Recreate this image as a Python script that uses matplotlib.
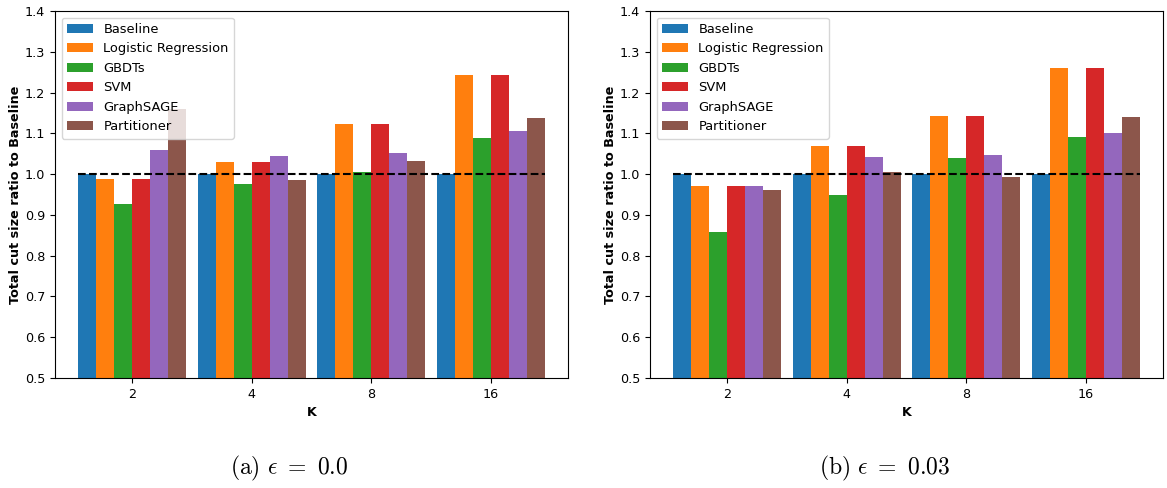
import numpy as np
import matplotlib
matplotlib.use("Agg")
import matplotlib.pyplot as plt

plt.rcParams["mathtext.fontset"] = "cm"
plt.rcParams["font.size"] = 9.2

k_labels = ["2", "4", "8", "16"]
methods = ["Baseline", "Logistic Regression", "GBDTs", "SVM", "GraphSAGE", "Partitioner"]
colors = ["#1f77b4", "#ff7f0e", "#2ca02c", "#d62728", "#9467bd", "#8c564b"]

# ratios for epsilon = 0.0
eps0_baseline = [1.0, 1.0, 1.0, 1.0]
eps0_logreg = [0.987, 1.030, 1.123, 1.242]
eps0_gbdt = [0.927, 0.976, 1.006, 1.088]
eps0_svm = [0.987, 1.030, 1.123, 1.242]
eps0_sage = [1.060, 1.044, 1.051, 1.105]
eps0_part = [1.159, 0.985, 1.033, 1.138]

# ratios for epsilon = 0.03
eps3_baseline = [1.0, 1.0, 1.0, 1.0]
eps3_logreg = [0.970, 1.068, 1.143, 1.259]
eps3_gbdt = [0.858, 0.948, 1.039, 1.091]
eps3_svm = [0.970, 1.068, 1.143, 1.259]
eps3_sage = [0.972, 1.042, 1.046, 1.100]
eps3_part = [0.962, 1.006, 0.993, 1.139]

panels = [
    ([eps0_baseline, eps0_logreg, eps0_gbdt, eps0_svm, eps0_sage, eps0_part],
     r"$\mathrm{(a)\ \epsilon\ =\ 0.0}$"),
    ([eps3_baseline, eps3_logreg, eps3_gbdt, eps3_svm, eps3_sage, eps3_part],
     r"$\mathrm{(b)\ \epsilon\ =\ 0.03}$"),
]

fig = plt.figure(figsize=(11.67, 4.88), dpi=100)
W, H = 1167, 488
axes_boxes = [(55, 11, 568, 378), (650, 11, 1163, 378)]
caption_x = [289, 885]

x = np.arange(len(k_labels))
width = 0.15
for (series, caption), (l, t, r, b), capx in zip(panels, axes_boxes, caption_x):
    ax = fig.add_axes([l / W, 1 - b / H, (r - l) / W, (b - t) / H])
    for i, (name, vals, c) in enumerate(zip(methods, series, colors)):
        ax.bar(x + (i - 2.5) * width, vals, width, label=name, color=c)
    lo = x[0] - 3 * width
    hi = x[-1] + 3 * width
    ax.plot([lo, hi], [1.0, 1.0], "k--", linewidth=1.5)
    ax.set_ylim(0.5, 1.4)
    ax.set_xticks(x)
    ax.set_xticklabels(k_labels)
    ax.set_xlabel("K", fontweight="bold")
    ax.set_ylabel("Total cut size ratio to Baseline", fontweight="bold", labelpad=2)
    ax.legend(loc="upper left", fontsize=9.4)
    fig.text(capx / W, 1 - 468 / H, caption, ha="center", va="center", fontsize=17)

fig.savefig("out.png", dpi=100)
